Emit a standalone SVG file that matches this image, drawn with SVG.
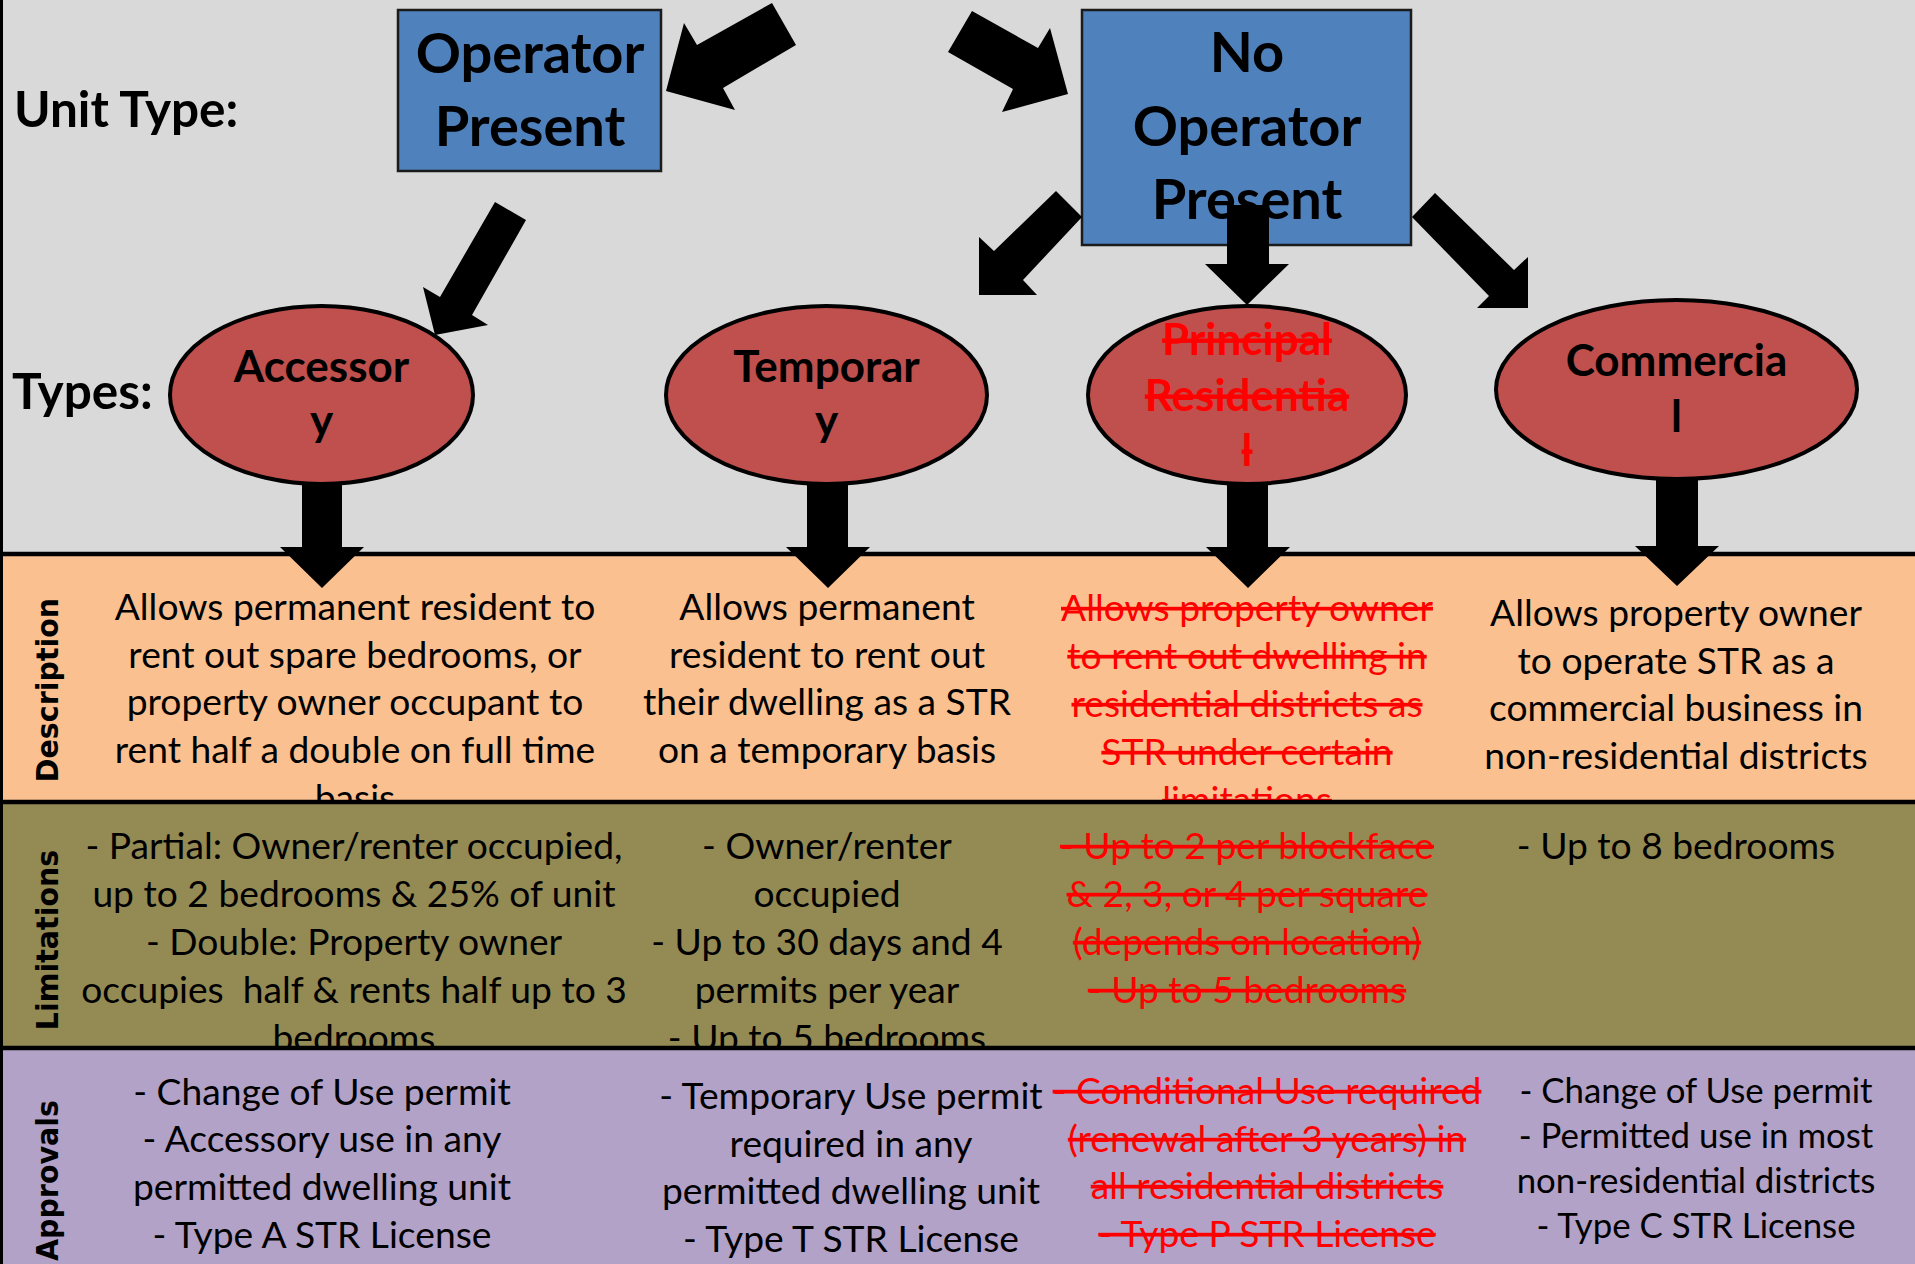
<svg xmlns="http://www.w3.org/2000/svg" width="1915" height="1264" viewBox="0 0 1915 1264">
<style>
.t{font-family:Lato,"Open Sans","Liberation Sans",sans-serif;text-anchor:middle;fill:#000}
.b{font-weight:700}
.box{fill:#4F81BD;stroke:#1b1b1b;stroke-width:2.5}
.ell{fill:#C0504D;stroke:#000;stroke-width:4}
.hdr{font-size:56px}
.el{font-size:44px}
.lbl{font-size:49.5px;text-anchor:start}
.body{font-size:37.2px}
.sm{font-size:34.8px}
.red{fill:#FF0000;text-decoration:line-through}
.side{font-family:"DejaVu Sans","Liberation Sans",sans-serif;font-weight:700;font-size:30px;fill:#000}
.arr{fill:#000}
.sep{stroke:#000;stroke-width:4.5}
</style>
<rect x="0" y="0" width="1915" height="554" fill="#D9D9D9"/>
<g id="band-description">
<rect x="0" y="554" width="1915" height="248" fill="#FAC090"/>
<text class="side" text-anchor="middle" transform="translate(58,690) rotate(-90) scale(0.95,1)">Description</text>
<text class="t body"><tspan x="355" y="620">Allows permanent resident to</tspan><tspan x="355" y="668">rent out spare bedrooms, or</tspan><tspan x="355" y="715">property owner occupant to</tspan><tspan x="355" y="763">rent half a double on full time</tspan><tspan x="355" y="811">basis</tspan></text>
<text class="t body"><tspan x="827" y="620">Allows permanent</tspan><tspan x="827" y="668">resident to rent out</tspan><tspan x="827" y="715">their dwelling as a STR</tspan><tspan x="827" y="763">on a temporary basis</tspan></text>
<text class="t body red"><tspan x="1247" y="621">Allows property owner</tspan><tspan x="1247" y="669">to rent out dwelling in</tspan><tspan x="1247" y="717">residential districts as</tspan><tspan x="1247" y="765">STR under certain</tspan><tspan x="1247" y="813">limitations</tspan></text>
<text class="t body"><tspan x="1676" y="626">Allows property owner</tspan><tspan x="1676" y="674">to operate STR as a</tspan><tspan x="1676" y="721">commercial business in</tspan><tspan x="1676" y="769">non-residential districts</tspan></text>
</g>
<g id="band-limitations">
<rect x="0" y="802" width="1915" height="246" fill="#948A54"/>
<text class="side" text-anchor="middle" transform="translate(58,940) rotate(-90) scale(0.95,1)">Limitations</text>
<text class="t body" xml:space="preserve"><tspan x="354" y="859">- Partial: Owner/renter occupied,</tspan><tspan x="354" y="907">up to 2 bedrooms &amp; 25% of unit</tspan><tspan x="354" y="955">- Double: Property owner</tspan><tspan x="354" y="1003">occupies  half &amp; rents half up to 3</tspan><tspan x="354" y="1051">bedrooms</tspan></text>
<text class="t body"><tspan x="827" y="859">- Owner/renter</tspan><tspan x="827" y="907">occupied</tspan><tspan x="827" y="955">- Up to 30 days and 4</tspan><tspan x="827" y="1003">permits per year</tspan><tspan x="827" y="1051">- Up to 5 bedrooms</tspan></text>
<text class="t body red"><tspan x="1247" y="859">- Up to 2 per blockface</tspan><tspan x="1247" y="907">&amp; 2, 3, or 4 per square</tspan><tspan x="1247" y="955">(depends on location)</tspan><tspan x="1247" y="1003">- Up to 5 bedrooms</tspan></text>
<text class="t body"><tspan x="1676" y="859">- Up to 8 bedrooms</tspan></text>
</g>
<g id="band-approvals">
<rect x="0" y="1048" width="1915" height="216" fill="#B3A2C7"/>
<text class="side" text-anchor="end" transform="translate(58,1100) rotate(-90) scale(0.95,1)">Approvals</text>
<text class="t body"><tspan x="322" y="1105">- Change of Use permit</tspan><tspan x="322" y="1152">- Accessory use in any</tspan><tspan x="322" y="1200">permitted dwelling unit</tspan><tspan x="322" y="1248">- Type A STR License</tspan></text>
<text class="t body"><tspan x="851" y="1109">- Temporary Use permit</tspan><tspan x="851" y="1157">required in any</tspan><tspan x="851" y="1204">permitted dwelling unit</tspan><tspan x="851" y="1252">- Type T STR License</tspan></text>
<text class="t body red"><tspan x="1267" y="1104">- Conditional Use required</tspan><tspan x="1267" y="1152">(renewal after 3 years) in</tspan><tspan x="1267" y="1199">all residential districts</tspan><tspan x="1267" y="1247">- Type P STR License</tspan></text>
<text class="t sm"><tspan x="1696" y="1103">- Change of Use permit</tspan><tspan x="1696" y="1148">- Permitted use in most</tspan><tspan x="1696" y="1193">non-residential districts</tspan><tspan x="1696" y="1238">- Type C STR License</tspan></text>
</g>
<g id="separators">
<line class="sep" x1="0" y1="554" x2="1915" y2="554"/>
<line class="sep" x1="0" y1="802" x2="1915" y2="802"/>
<line class="sep" x1="0" y1="1048" x2="1915" y2="1048"/>
<line x1="1.5" y1="0" x2="1.5" y2="1264" stroke="#000" stroke-width="3"/>
</g>
<g id="label-unit-type"><text class="t b lbl" x="14" y="127">Unit Type:</text></g>
<g id="label-types"><text class="t b lbl" x="12" y="409">Types:</text></g>
<g id="node-operator-present">
<rect class="box" x="398" y="10" width="263" height="161"/>
<text class="t b hdr"><tspan x="530" y="73">Operator</tspan><tspan x="530" y="146">Present</tspan></text>
</g>
<g id="node-no-operator-present">
<rect class="box" x="1082" y="10" width="329" height="235"/>
<text class="t b hdr"><tspan x="1247" y="72">No</tspan><tspan x="1247" y="146">Operator</tspan><tspan x="1247" y="219">Present</tspan></text>
</g>
<g id="node-accessory">
<ellipse class="ell" cx="321.5" cy="395" rx="151.5" ry="89"/>
<text class="t b el"><tspan x="321.5" y="382">Accessor</tspan><tspan x="321.5" y="436">y</tspan></text>
</g>
<g id="node-temporary">
<ellipse class="ell" cx="826.5" cy="395" rx="160.5" ry="89"/>
<text class="t b el"><tspan x="826.5" y="382">Temporar</tspan><tspan x="826.5" y="436">y</tspan></text>
</g>
<g id="node-principal-residential">
<ellipse class="ell" cx="1247" cy="395" rx="159" ry="89"/>
<text class="t b el red"><tspan x="1247" y="355">Principal</tspan><tspan x="1247" y="411">Residentia</tspan><tspan x="1247" y="466">l</tspan></text>
</g>
<g id="node-commercial">
<ellipse class="ell" cx="1676.5" cy="389.5" rx="180.5" ry="89.5"/>
<text class="t b el"><tspan x="1676.5" y="376">Commercia</tspan><tspan x="1676.5" y="432">l</tspan></text>
</g>
<g id="connectors">
<polygon class="arr" points="772,3 796,45 723,88 735,110 666,91 684,23 697,45"/>
<polygon class="arr" points="972,11 1038,48 1050,28 1068,94 1002,112 1013,89 948,52"/>
<polygon class="arr" points="495,202 526,220 472,315 488,325 435,335 423,287 440,297"/>
<polygon class="arr" points="1056,191 1082,217 1023,280 1037,295 979,295 979,237 994,251"/>
<polygon class="arr" points="1227,205 1269,205 1269,264 1289,264 1247,305 1205,264 1227,264"/>
<polygon class="arr" points="1435,193 1514,270 1528,257 1528,308 1477,308 1489,296 1412,217"/>
<polygon class="arr" points="302,482 342,482 342,547 364,547 322,588 280,547 302,547"/>
<polygon class="arr" points="807,482 848,482 848,547 870,547 828,588 786,547 807,547"/>
<polygon class="arr" points="1227,482 1268,482 1268,547 1290,547 1248,588 1206,547 1227,547"/>
<polygon class="arr" points="1656,477 1698,477 1698,546 1719,546 1677,586 1635,546 1656,546"/>
</g>
</svg>
